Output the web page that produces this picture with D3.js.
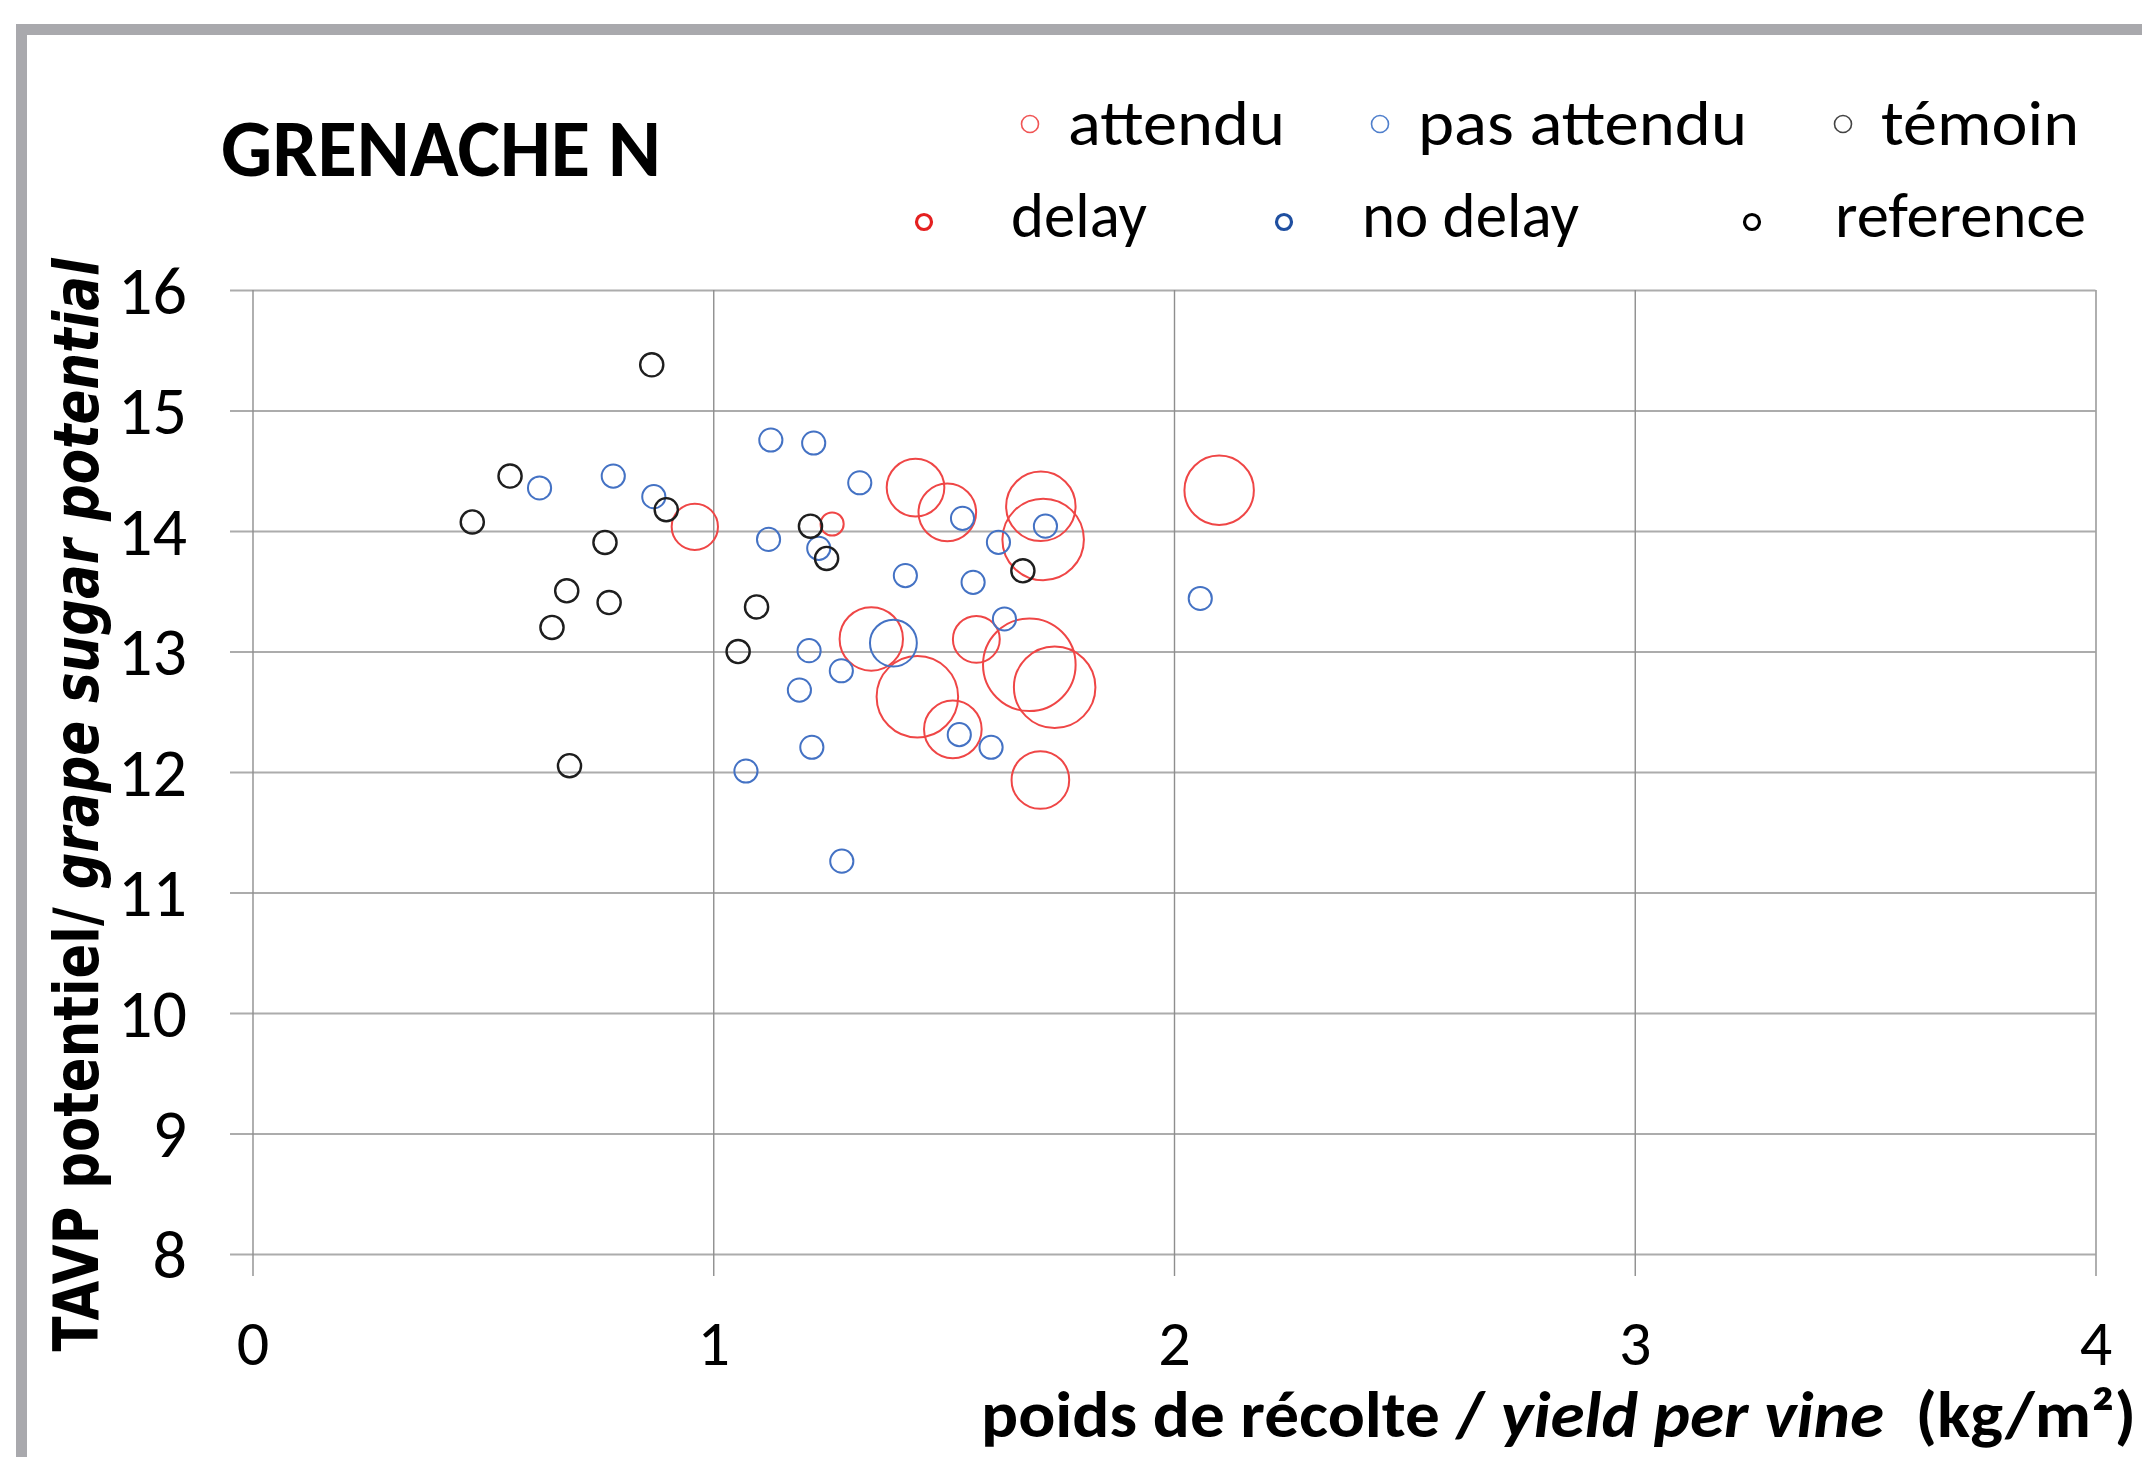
<!DOCTYPE html>
<html><head><meta charset="utf-8">
<script src="https://cdn.jsdelivr.net/npm/d3@7"></script>
<style>
html,body{margin:0;padding:0;background:#fff;overflow:hidden;}
svg{display:block;}
.cal{font-family:Carlito,"Open Sans",sans-serif;}
</style></head>
<body><svg id="c" width="2142" height="1457"></svg>
<script>
// ---- data ----
const delayX = [0.96, 1.258, 1.439, 1.508, 1.711, 1.716, 2.098, 1.343, 1.571, 1.686, 1.741, 1.443, 1.520, 1.710];
const delayY = [14.035, 14.058, 14.36, 14.155, 14.205, 13.93, 14.338, 13.104, 13.101, 12.89, 12.703, 12.625, 12.354, 11.934];
const delaySize = [4.0, 1.0, 6.2, 6.2, 9.0, 12.4, 9.0, 7.5, 4.1, 16.0, 12.4, 12.4, 6.2, 6.2];

const noDelayX = [0.623, 0.783, 0.871, 1.125, 1.218, 1.318, 1.120, 1.229, 1.541, 1.619, 1.721, 1.417, 1.564, 2.057, 1.632, 1.391, 1.208, 1.278, 1.187, 1.534, 1.603, 1.214, 1.071, 1.279];
const noDelayY = [14.357, 14.456, 14.285, 14.755, 14.73, 14.40, 13.93, 13.856, 14.105, 13.906, 14.04, 13.63, 13.574, 13.44, 13.27, 13.07, 13.007, 12.84, 12.68, 12.31, 12.205, 12.205, 12.008, 11.26];
const noDelaySize = [1, 1, 1, 1, 1, 1, 1, 1, 1, 1, 1, 1, 1, 1, 1, 4.1, 1, 1, 1, 1, 1, 1, 1, 1];

const refX = [0.477, 0.559, 0.650, 0.682, 0.688, 0.765, 0.774, 0.8665, 0.898, 1.054, 1.094, 1.211, 1.246, 1.672];
const refY = [14.075, 14.456, 13.20, 13.504, 12.052, 13.905, 13.406, 15.379, 14.177, 13.0, 13.37, 14.04, 13.772, 13.67];
const refSize = [1, 1, 1, 1, 1, 1, 1, 1, 1, 1, 1, 1, 1, 1];

const xTicks = [0, 1, 2, 3, 4];
const yTicks = [8, 9, 10, 11, 12, 13, 14, 15, 16];
const legendFr = ["attendu", "pas attendu", "témoin"];
const legendEn = ["delay", "no delay", "reference"];
const title = "GRENACHE N";

// ---- layout ----
const svg = d3.select("#c");
const L = 252.5, R = 2095.5, T = 290, B = 1254;
const x = d3.scaleLinear().domain([0, 4]).range([L, R]);
const y = d3.scaleLinear().domain([8, 16]).range([B, T]);
const r = d3.scaleSqrt().domain([0, 16]).range([0, 46.3]);

// outer frame
svg.append("rect").attr("x", 21.5).attr("y", 29.5).attr("width", 2300).attr("height", 1600)
  .attr("fill", "none").attr("stroke", "#a9a9ad").attr("stroke-width", 11);

// y axis with gridlines
const yAx = svg.append("g").attr("transform", `translate(230,0)`)
  .call(d3.axisLeft(y).tickValues(yTicks).tickSize(-(R - 230)).tickPadding(43).tickFormat(d3.format("d")));
yAx.select(".domain").remove();
yAx.selectAll("line").attr("stroke", "#acacac").attr("stroke-width", 2);
yAx.selectAll("text").attr("class", "cal").attr("font-size", 68).attr("fill", "#000").attr("dy", "0.34em");

// x axis with gridlines
const xAx = svg.append("g").attr("transform", `translate(0,1276)`)
  .call(d3.axisBottom(x).tickValues(xTicks).tickSize(-(1276 - T)).tickPadding(44).tickFormat(d3.format("d")));
xAx.select(".domain").remove();
xAx.selectAll("line").attr("stroke", "#8e8e8e").attr("stroke-width", 1.4);
xAx.selectAll("text").attr("class", "cal").attr("font-size", 64).attr("fill", "#000");

// bubbles
function series(xs, ys, ss, color, sw) {
  svg.append("g").selectAll("circle").data(xs.map((v, i) => ({x: v, y: ys[i], s: ss[i]})))
    .join("circle")
    .attr("cx", d => x(d.x)).attr("cy", d => y(d.y)).attr("r", d => r(d.s))
    .attr("fill", "none").attr("stroke", color).attr("stroke-width", sw);
}
series(delayX, delayY, delaySize, "#ef4646", 2);
series(noDelayX, noDelayY, noDelaySize, "#4472c4", 2);
series(refX, refY, refSize, "#1e1e1e", 2.4);

// title
svg.append("text").attr("class", "cal").attr("x", 221).attr("y", 176)
  .attr("font-size", 80).attr("font-weight", "bold").attr("textLength", 440)
  .attr("lengthAdjust", "spacingAndGlyphs").text(title);

// legend
const lgFrColors = ["#f05454", "#4f7fcc", "#444"];
const lgEnColors = ["#e42020", "#1f4fa0", "#000"];
const lgFrMarkX = [1030, 1380, 1843], lgFrTextX = [1068, 1418, 1881], lgFrW = [217, 329, 198];
const lgEnMarkX = [924, 1284, 1752], lgEnTextX = [1011, 1362, 1835], lgEnW = [136, 217, 251];
legendFr.forEach((t, i) => {
  svg.append("circle").attr("cx", lgFrMarkX[i]).attr("cy", 124).attr("r", 8.5)
    .attr("fill", "none").attr("stroke", lgFrColors[i]).attr("stroke-width", 1.6);
  svg.append("text").attr("class", "cal").attr("x", lgFrTextX[i]).attr("y", 145)
    .attr("font-size", 64).attr("textLength", lgFrW[i]).attr("lengthAdjust", "spacingAndGlyphs").text(t);
});
legendEn.forEach((t, i) => {
  svg.append("circle").attr("cx", lgEnMarkX[i]).attr("cy", 222).attr("r", 7.5)
    .attr("fill", "none").attr("stroke", lgEnColors[i]).attr("stroke-width", 3.2);
  svg.append("text").attr("class", "cal").attr("x", lgEnTextX[i]).attr("y", 237)
    .attr("font-size", 64).attr("textLength", lgEnW[i]).attr("lengthAdjust", "spacingAndGlyphs").text(t);
});

// x axis title
const xt = svg.append("text").attr("class", "cal").attr("x", 981).attr("y", 1437)
  .attr("font-size", 64).attr("font-weight", "bold").style("white-space", "pre")
  .attr("textLength", 1155).attr("lengthAdjust", "spacingAndGlyphs");
xt.append("tspan").text("poids de récolte / ");
xt.append("tspan").attr("font-style", "italic").text("yield per vine");
xt.append("tspan").text("  (kg/m²)");

// y axis title
const yt = svg.append("text").attr("transform", "translate(98,805) rotate(-90)")
  .attr("text-anchor", "middle").attr("font-family", "'DejaVu Sans',Verdana,sans-serif")
  .attr("font-size", 62).attr("font-weight", "bold").style("white-space", "pre")
  .attr("textLength", 1093).attr("lengthAdjust", "spacingAndGlyphs");
yt.append("tspan").text("TAVP potentiel/ ");
yt.append("tspan").attr("font-style", "italic").text("grape sugar potential");
</script></body></html>
